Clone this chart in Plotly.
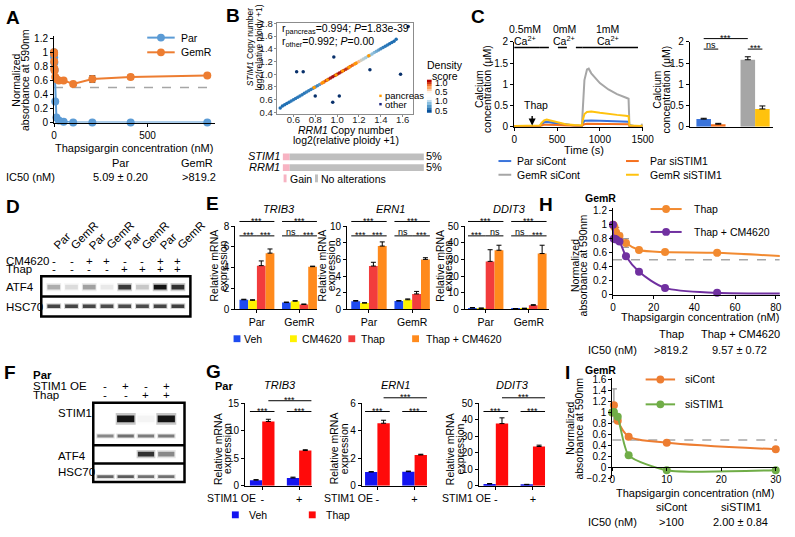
import plotly.graph_objects as go

W, H = 795, 537
FONT = "Liberation Sans, Arial, Helvetica, sans-serif"

# ===================== DATA =====================
# A
conc_A = [0, 0.4, 0.8, 1.6, 3.2, 6.4, 12.8, 25.6, 51.2, 102.4, 204.8, 409.6, 819.2]
par_A = [1.00, 0.97, 0.93, 0.85, 0.75, 0.30, 0.07, 0.03, 0.01, 0.00, 0.00, 0.00, 0.00]
gemr_A = [1.00, 0.98, 0.87, 0.77, 0.74, 0.65, 0.62, 0.60, 0.60, 0.55, 0.62, 0.65, 0.67]
gemr_A_err = [0.02, 0.02, 0.02, 0.02, 0.02, 0.02, 0.02, 0.02, 0.02, 0.02, 0.05, 0.03, 0.02]
lines_A = ["Par", "GemR"]
ic50_A = ["5.09 ± 0.20", ">819.2"]

# B
rrm1_other = [0.48, 0.50, 0.52, 0.54, 0.56, 0.58, 0.60, 0.62, 0.64, 0.66, 0.68, 0.70, 0.72, 0.74,
              0.76, 0.78, 0.80, 0.82, 0.84, 0.86, 0.88, 0.90, 0.92, 0.94, 0.96, 0.98, 1.00, 1.02,
              1.04, 1.06, 1.08, 1.10, 1.12, 1.14, 1.16, 1.18, 1.20, 1.22, 1.24, 1.26, 1.28, 1.30,
              1.32, 1.34, 1.36, 1.38, 1.40, 1.42, 1.44, 1.46, 1.48, 1.50, 1.52, 1.54,
              0.63, 0.69, 0.80, 0.96, 1.02, 0.97, 1.30, 1.58, 1.65]
stim1_other = [0.47, 0.50, 0.52, 0.54, 0.56, 0.58, 0.60, 0.62, 0.64, 0.66, 0.68, 0.70, 0.72, 0.74,
               0.76, 0.78, 0.80, 0.82, 0.84, 0.86, 0.88, 0.90, 0.92, 0.94, 0.96, 0.98, 1.00, 1.02,
               1.04, 1.06, 1.08, 1.10, 1.12, 1.14, 1.16, 1.18, 1.20, 1.22, 1.24, 1.26, 1.28, 1.30,
               1.32, 1.34, 1.36, 1.38, 1.40, 1.42, 1.44, 1.46, 1.48, 1.50, 1.52, 1.55,
               1.04, 1.04, 0.66, 0.56, 0.66, 1.27, 1.07, 1.00, 1.75]
density_other = [0.64, 0.64, 0.65, 0.65, 0.65, 0.66, 0.66, 0.66, 0.66, 0.66, 0.66, 0.66, 0.67, 0.67,
                 0.67, 0.67, 0.67, 0.68, 0.70, 0.88, 0.92, 0.95, 0.97, 0.98, 1.00, 1.00, 1.00, 0.99,
                 0.98, 0.97, 0.96, 0.94, 0.92, 0.90, 0.88, 0.86, 0.84, 0.80, 0.79, 0.78, 0.78, 0.77,
                 0.76, 0.75, 0.73, 0.71, 0.68, 0.67, 0.66, 0.66, 0.65, 0.65, 0.64, 0.64,
                 0.50, 0.50, 0.50, 0.50, 0.50, 0.50, 0.50, 0.50, 0.50]
rrm1_pancreas = [0.79, 0.87, 0.91, 0.99, 1.05, 1.11, 1.17, 1.29]
stim1_pancreas = [0.79, 0.87, 0.91, 0.99, 1.05, 1.11, 1.17, 1.29]
density_ticks = [0.5, 0.6, 0.7, 0.8, 0.9, 1.0]
onco_genes = ["STIM1", "RRM1"]
onco_gain = [5, 5]
onco_none = [95, 95]

# C
time_C = [0, 100, 200, 300, 320, 350, 380, 420, 500, 600, 700, 790, 800, 820, 850, 870, 900,
          1000, 1100, 1200, 1300, 1335, 1345, 1400, 1480, 1500]
par_sicont = [0.02, 0.02, 0.02, 0.02, 0.06, 0.10, 0.11, 0.10, 0.07, 0.04, 0.03, 0.02, 0.08, 0.14,
              0.15, 0.15, 0.15, 0.14, 0.13, 0.12, 0.12, 0.12, 0.02, 0.02, 0.02, 0.02]
par_sistim1 = [0.01, 0.01, 0.01, 0.01, 0.03, 0.05, 0.05, 0.05, 0.04, 0.03, 0.02, 0.02, 0.04, 0.06,
               0.07, 0.07, 0.07, 0.07, 0.06, 0.06, 0.06, 0.06, 0.01, 0.01, 0.01, 0.01]
gemr_sicont = [0.02, 0.02, 0.02, 0.02, 0.07, 0.12, 0.13, 0.12, 0.08, 0.05, 0.03, 0.02, 0.45, 1.10,
               1.35, 1.37, 1.26, 1.03, 0.88, 0.77, 0.69, 0.66, 0.05, 0.02, 0.02, 0.07]
gemr_sistim1 = [0.02, 0.02, 0.02, 0.03, 0.09, 0.15, 0.17, 0.15, 0.11, 0.06, 0.04, 0.03, 0.15, 0.30,
                0.35, 0.36, 0.36, 0.33, 0.30, 0.28, 0.26, 0.25, 0.03, 0.02, 0.02, 0.03]
series_C = ["Par siCont", "Par siSTIM1", "GemR siCont", "GemR siSTIM1"]
ca_phase_start = [0, 300, 800, 1340]
ca_phase_end = [300, 800, 1340, 1500]
ca_labels = ["0.5mM", "0mM", "1mM"]
groups_Cbar = ["Par", "GemR"]
ca_sicont = [0.18, 1.58]
ca_sicont_err = [0.02, 0.07]
ca_sistim1 = [0.06, 0.42]
ca_sistim1_err = [0.02, 0.07]

# D
cells_D = ["Par", "GemR", "Par", "GemR", "Par", "GemR", "Par", "GemR"]
cm4620_D = ["-", "-", "+", "+", "-", "-", "+", "+"]
thap_D = ["-", "-", "-", "-", "+", "+", "+", "+"]
atf4_D = [0.30, 0.12, 0.35, 0.08, 0.80, 0.20, 1.00, 0.85]
hsc70_D = [0.75, 0.75, 0.75, 0.72, 0.72, 0.72, 0.75, 0.78]

# E
groups_E = ["Par", "GemR"]
treat_E = ["Veh", "CM4620", "Thap", "Thap + CM4620"]
genes = ["TRIB3", "ERN1", "DDIT3"]
trib3_E = [[0.92, 0.65], [0.87, 0.78], [4.2, 0.47], [5.4, 4.1]]
trib3_E_err = [[0.05, 0.05], [0.05, 0.06], [0.45, 0.04], [0.40, 0.05]]
ern1_E = [[0.98, 1.0], [0.75, 1.15], [5.2, 1.85], [7.6, 6.0]]
ern1_E_err = [[0.08, 0.05], [0.05, 0.10], [0.45, 0.30], [0.50, 0.20]]
ddit3_E = [[0.8, 0.4], [0.6, 0.5], [28.8, 2.4], [35.5, 33.5]]
ddit3_E_err = [[0.3, 0.1], [0.2, 0.2], [7.0, 0.4], [3.0, 5.0]]
sig_E = {"TRIB3": [["***", "***", "***"], ["***", "ns", "***"]],
         "ERN1": [["***", "***", "***"], ["***", "ns", "***"]],
         "DDIT3": [["***", "***", "ns"], ["***", "ns", "***"]]}

# F
stim1oe_F = ["-", "+", "-", "+"]
thap_F = ["-", "-", "+", "+"]
stim1_F_upper = [0.0, 1.0, 0.04, 1.0]
stim1_F_lower = [0.45, 0.55, 0.50, 0.50]
atf4_F = [0.0, 0.0, 0.85, 0.45]
hsc70_F = [0.60, 0.65, 0.55, 0.55]

# G
groups_G = ["-", "+"]
treat_G = ["Veh", "Thap"]
trib3_G = [[1.0, 1.4], [11.7, 6.4]]
trib3_G_err = [[0.1, 0.15], [0.4, 0.15]]
ern1_G = [[1.0, 1.02], [4.55, 2.24]]
ern1_G_err = [[0.02, 0.04], [0.22, 0.05]]
ddit3_G = [[1.0, 0.6], [37.7, 23.8]]
ddit3_G_err = [[0.3, 0.2], [3.5, 0.8]]

# H
conc_H = [0, 0.4, 0.8, 1.6, 3.2, 6.4, 12.8, 25.6, 51.2, 102.4, 204.8, 409.6, 819.2]
thap_H = [1.00, 0.99, 0.96, 0.89, 0.84, 0.74, 0.64, 0.61, 0.60, 0.53, 0.52, 0.52, 0.52]
thap_H_err = [0.02, 0.02, 0.03, 0.07, 0.04, 0.06, 0.02, 0.02, 0.02, 0.02, 0.02, 0.02, 0.02]
thapcm_H = [1.00, 0.80, 0.80, 0.79, 0.76, 0.55, 0.33, 0.10, 0.03, 0.02, 0.02, 0.02, 0.02]
thapcm_H_err = [0.02, 0.03, 0.02, 0.02, 0.02, 0.02, 0.02, 0.01, 0.01, 0.01, 0.01, 0.01, 0.01]
names_H = ["Thap", "Thap + CM4620"]
ic50_H = [">819.2", "9.57 ± 0.72"]

# I
conc_I = [0, 0.3, 1, 3, 10, 30]
sicont_I = [1.00, 1.13, 0.85, 0.56, 0.45, 0.33]
sicont_I_err = [0.02, 0.30, 0.04, 0.03, 0.02, 0.02]
sistim1_I = [1.00, 1.01, 0.92, 0.22, -0.05, -0.05]
names_I = ["siCont", "siSTIM1"]
ic50_I = [">100", "2.00 ± 0.84"]

# ===================== HELPERS =====================
fig = go.Figure()
_n = [0]


def new_axes(x0, y0, x1, y1, xkw=None, ykw=None):
    _n[0] += 1
    k = _n[0]
    s = '' if k == 1 else str(k)
    base = dict(showgrid=False, zeroline=False, showline=True, linecolor='black', linewidth=1,
                ticks='outside', ticklen=3, tickwidth=1, tickcolor='black',
                tickfont=dict(size=10, family=FONT, color='black'), fixedrange=True)
    xa = dict(base, domain=[x0 / W, x1 / W], anchor='y' + s)
    ya = dict(base, domain=[1 - y1 / H, 1 - y0 / H], anchor='x' + s)
    if xkw:
        xa.update(xkw)
    if ykw:
        ya.update(ykw)
    fig.update_layout({'xaxis' + s: xa, 'yaxis' + s: ya})
    return 'x' + s, 'y' + s


def T(x, y, text, size=10.5, xa='center', ya='middle', angle=0, color='black', xref='paper'):
    fig.add_annotation(x=x / W if xref == 'paper' else x, y=1 - y / H, xref=xref, yref='paper',
                       text=text, showarrow=False, xanchor=xa, yanchor=ya, textangle=angle,
                       font=dict(size=size, family=FONT, color=color), borderpad=0)


def line(x0, y0, x1, y1, color='black', width=1, dash=None, xref='paper'):
    if xref == 'paper':
        x0, x1 = x0 / W, x1 / W
    fig.add_shape(type='line', xref=xref, yref='paper', x0=x0, x1=x1, y0=1 - y0 / H, y1=1 - y1 / H,
                  line=dict(color=color, width=width, dash=dash))


def rect(x0, y0, x1, y1, xref='paper', **kw):
    if xref == 'paper':
        x0, x1 = x0 / W, x1 / W
    fig.add_shape(type='rect', xref=xref, yref='paper', x0=x0, x1=x1, y0=1 - y1 / H, y1=1 - y0 / H, **kw)


def vlines(xs, yc, texts, size=10.5):
    for x, t in zip(xs, texts):
        T(x, yc, t, size=size, angle=-90)


def leg_lm(x0, x1, y, color, label, tx, size=10.5):
    line(x0, y, x1, y, color=color, width=2)
    cx = (x0 + x1) / 2
    fig.add_shape(type='circle', xref='paper', yref='paper', x0=(cx - 4) / W, x1=(cx + 4) / W,
                  y0=1 - (y + 4) / H, y1=1 - (y - 4) / H, fillcolor=color, line=dict(width=0))
    T(tx, y, label, size=size, xa='left')


def leg_sq(x0, y, color, label, tx, size=10.5):
    rect(x0, y - 3.5, x0 + 7, y + 3.5, fillcolor=color, line=dict(width=0))
    T(tx, y, label, size=size, xa='left')


def bracket(xref, xa_, xb_, ypix, label, size=9):
    line(xa_, ypix, xb_, ypix, xref=xref, width=1)
    off = 5.4 if '*' in label else 1.8
    T((xa_ + xb_) / 2, ypix + off, label, size=size, ya='bottom', xref=xref)


def bands(xref, vals, yc, h, w):
    for i, v in enumerate(vals):
        if v <= 0:
            continue
        lane = i + 1
        rect(lane - w * 0.58, yc - h * 0.85, lane + w * 0.58, yc + h * 0.85, xref=xref,
             fillcolor='black', opacity=v * 0.22, line=dict(width=0))
        rect(lane - w / 2, yc - h / 2, lane + w / 2, yc + h / 2, xref=xref,
             fillcolor='black', opacity=min(1, v * 0.9), line=dict(width=0))


def grouped_bars(xr, yr, vals, errs, colors, names, gw):
    n = len(vals)
    for i in range(n):
        fig.add_trace(go.Bar(x=[0, 1], y=vals[i], width=gw / n, offset=-gw / 2 + i * gw / n,
                             marker=dict(color=colors[i], line=dict(width=0)), name=names[i],
                             error_y=dict(type='data', array=errs[i], arrayminus=[0, 0], symmetric=False,
                                          color='black', thickness=1, width=2.5),
                             xaxis=xr, yaxis=yr, showlegend=False))


# ===================== PANEL A =====================
BLUE_A, ORANGE_A = '#5B9BD5', '#ED7D31'
xA, yA = new_axes(52, 32, 216, 120, dict(range=[0, 860], tickvals=[0, 500]),
                  dict(range=[0, 1.228], tickvals=[0, 0.2, 0.4, 0.6, 0.8, 1, 1.2]))
fig.add_shape(type='line', xref=xA, yref=yA, x0=0, x1=819.2, y0=0.5, y1=0.5, layer='below',
              line=dict(color='#A6A6A6', width=1.5, dash='dash'))
fig.add_trace(go.Scatter(x=conc_A, y=par_A, mode='lines+markers', line=dict(color=BLUE_A, width=2),
                         marker=dict(size=8, color=BLUE_A), xaxis=xA, yaxis=yA, cliponaxis=False,
                         showlegend=False))
fig.add_trace(go.Scatter(x=conc_A, y=gemr_A, mode='lines+markers', line=dict(color=ORANGE_A, width=2),
                         marker=dict(size=8, color=ORANGE_A), xaxis=xA, yaxis=yA, cliponaxis=False,
                         error_y=dict(type='data', array=gemr_A_err, color='#555', thickness=1, width=3),
                         showlegend=False))
leg_lm(147, 175, 33.3, BLUE_A, lines_A[0], 180)
leg_lm(147, 175, 48.3, ORANGE_A, lines_A[1], 180)
vlines([13.5, 23], 77, ["Normalized", "absorbance at 590nm"], size=10.5)
T(134, 145.5, "Thapsigargin concentration (nM)", size=11)
T(120, 161.5, lines_A[0], size=11)
T(198, 161.5, lines_A[1], size=11)
T(2, 176, "IC50 (nM)", size=11, xa='left')
T(120, 176, ic50_A[0], size=11)
T(200, 176, ic50_A[1], size=11)

# ===================== PANEL B =====================
b_tick = dict(size=9.5, family=FONT, color='#222')
xB, yB = new_axes(279, 18.3, 418, 111,
                  dict(range=[0.448, 1.695], tick0=0.6, dtick=0.2, tickformat='.1f', mirror=True,
                       linecolor='#8c8c8c', tickcolor='#8c8c8c', ticklen=2, tickfont=b_tick,
                       ticklabelstandoff=-5),
                  dict(range=[0.38, 1.806], tick0=0.6, dtick=0.2, tickformat='.1f', mirror=True,
                       linecolor='#8c8c8c', tickcolor='#8c8c8c', ticklen=2, tickfont=b_tick,
                       ticklabelstandoff=-1))
DENS_SCALE = [[0, '#08306b'], [0.3, '#2171b5'], [0.55, '#9ecae1'], [0.65, '#fdd0a2'],
              [0.8, '#f16913'], [1.0, '#a50f15']]
fig.add_trace(go.Scatter(x=rrm1_other, y=stim1_other, mode='markers',
                         marker=dict(size=3.5, color=density_other, colorscale=DENS_SCALE, cmin=0.5, cmax=1.0),
                         xaxis=xB, yaxis=yB, showlegend=False))
fig.add_trace(go.Scatter(x=rrm1_pancreas, y=stim1_pancreas, mode='markers',
                         marker=dict(size=3.5, color='#FF9900'), xaxis=xB, yaxis=yB, showlegend=False))
T(283, 25, "r<sub>pancreas</sub>=0.994; <i>P</i>=1.83e-39", size=10.5, xa='left')
T(283, 37.5, "r<sub>other</sub>=0.992; <i>P</i>=0.00", size=10.5, xa='left')
rect(383.5, 91.5, 386, 94, fillcolor='#FF9900', line=dict(width=0))
rect(383.5, 100, 386, 102.5, fillcolor='#1a237e', line=dict(width=0))
T(388, 92, "pancreas", size=9.5, xa='left')
T(388, 101.5, "other", size=9.5, xa='left')
vlines([252, 261], 43, ["<i>STIM1</i> Copy number", "log2(relative ploidy +1)"], size=8.5)
T(350, 128, "<i>RRM1</i> Copy number", size=10.5)
T(350, 137.5, "log2(relative ploidy +1)", size=10.5)
# density colour keys
xK1, yK1 = new_axes(432, 76, 437, 90, dict(visible=False), dict(visible=False, range=[0.45, 1.05]))
fig.add_trace(go.Heatmap(z=[[v] for v in density_ticks], y=density_ticks, x=[0], zmin=0.5, zmax=1.0,
                         colorscale=[[0, '#fff5eb'], [0.5, '#fd8d3c'], [1, '#b30000']], showscale=False,
                         xaxis=xK1, yaxis=yK1))
xK2, yK2 = new_axes(432, 94, 437, 110, dict(visible=False), dict(visible=False, range=[0.45, 1.05]))
fig.add_trace(go.Heatmap(z=[[v] for v in density_ticks], y=density_ticks, x=[0], zmin=0.5, zmax=1.0,
                         colorscale=[[0, '#08519c'], [0.5, '#6baed6'], [1, '#f7fbff']], showscale=False,
                         xaxis=xK2, yaxis=yK2))
T(450, 61, "Density", size=10.5)
T(450, 72, "score", size=10.5)
T(439.5, 79.5, "1.0", size=9, xa='left')
T(439.5, 89, "0.5", size=9, xa='left')
T(439.5, 98.5, "1.0", size=9, xa='left')
T(439.5, 108.5, "0.5", size=9, xa='left')
# oncoprint
xO, yO = new_axes(285, 149.5, 429, 171.5, dict(visible=False, range=[0, 100]),
                  dict(visible=False, range=[-0.5, 1.5], categoryorder='array',
                       categoryarray=onco_genes[::-1]))
fig.add_trace(go.Bar(y=onco_genes, x=onco_gain, orientation='h', width=0.64,
                     marker=dict(color='#F7B3C2', line=dict(width=0)), xaxis=xO, yaxis=yO, showlegend=False))
fig.add_trace(go.Bar(y=onco_genes, x=onco_none, base=onco_gain, orientation='h', width=0.64,
                     marker=dict(color='#BFBFBF', line=dict(width=0)), xaxis=xO, yaxis=yO, showlegend=False))
T(283, 154.5, "<i>STIM1</i>", size=11, xa='right')
T(283, 165.5, "<i>RRM1</i>", size=11, xa='right')
T(430, 154.5, "5%", size=11, xa='left')
T(430, 165.5, "5%", size=11, xa='left')
rect(286, 173, 289, 181, fillcolor='#F7B3C2', line=dict(width=0))
T(292, 178, "Gain", size=10.5, xa='left')
rect(318, 173, 321, 181, fillcolor='#BFBFBF', line=dict(width=0))
T(323, 178, "No alterations", size=10.5, xa='left')

# ===================== PANEL C =====================
C_colors = {"Par siCont": '#3A74DB', "Par siSTIM1": '#F5701E', "GemR siCont": '#A6A6A6',
            "GemR siSTIM1": '#FFC20E'}
C_values = {"Par siCont": par_sicont, "Par siSTIM1": par_sistim1, "GemR siCont": gemr_sicont,
            "GemR siSTIM1": gemr_sistim1}
xC, yC = new_axes(521, 37.7, 652, 124.3, dict(range=[0, 1500], tickvals=[0, 500, 1000, 1500]),
                  dict(range=[0, 2], tickvals=[0, 0.5, 1, 1.5, 2]))
for nm in ["GemR siCont", "Par siCont", "Par siSTIM1", "GemR siSTIM1"]:
    fig.add_trace(go.Scatter(x=time_C, y=C_values[nm], mode='lines', line=dict(color=C_colors[nm], width=2),
                             xaxis=xC, yaxis=yC, showlegend=False))
for i, (a, b) in enumerate(zip(ca_phase_start, ca_phase_end)):
    fig.add_shape(type='line', xref=xC, yref=yC, x0=a, x1=b, y0=1.87, y1=1.87,
                  line=dict(color='black', width=1.5, dash='solid' if i % 2 == 0 else 'dash'))
for lbl, t in zip(ca_labels, [125, 585, 1090]):
    T(t, 25, lbl, size=10.5, xref=xC)
    T(t, 36, "Ca<sup>2+</sup>", size=10.5, xref=xC)
fig.add_annotation(x=210, y=0.03, xref=xC, yref=yC, ax=0, ay=-11, showarrow=True, arrowhead=2,
                   arrowsize=1, arrowwidth=1.4, arrowcolor='black', text='')
T(543, 102, "Thap", size=10.5)
vlines([485, 494], 86, ["Calcium", "concentration (μM)"], size=10.5)
T(592, 148, "Time (s)", size=11)
# bar
xCb, yCb = new_axes(700, 37.7, 785, 124.3,
                    dict(range=[-0.48, 1.41], ticks='', showticklabels=False),
                    dict(range=[0, 2], tickvals=[0, 0.5, 1, 1.5, 2]))
gwC = 0.66
fig.add_trace(go.Bar(x=[0, 1], y=ca_sicont, width=gwC / 2, offset=-gwC / 2,
                     marker=dict(color=[C_colors["Par siCont"], C_colors["GemR siCont"]], line=dict(width=0)),
                     error_y=dict(type='data', array=ca_sicont_err, arrayminus=[0, 0], symmetric=False,
                                  color='black', thickness=1, width=3),
                     xaxis=xCb, yaxis=yCb, showlegend=False))
fig.add_trace(go.Bar(x=[0, 1], y=ca_sistim1, width=gwC / 2, offset=0,
                     marker=dict(color=[C_colors["Par siSTIM1"], C_colors["GemR siSTIM1"]], line=dict(width=0)),
                     error_y=dict(type='data', array=ca_sistim1_err, arrayminus=[0, 0], symmetric=False,
                                  color='black', thickness=1, width=3),
                     xaxis=xCb, yaxis=yCb, showlegend=False))
bracket(xCb, -gwC / 4, 1 - gwC / 4, 34.3, "***")
bracket(xCb, -gwC / 4, gwC / 4, 45, "ns")
bracket(xCb, 1 - gwC / 4, 1 + gwC / 4, 45, "***")
vlines([667, 676], 86, ["Calcium", "concentration (μM)"], size=10.5)
leg_x = [(505, 518, 522.5, 159.3), (635, 648, 658, 159.3), (505, 518, 522.5, 173.3), (635, 648, 658, 173.3)]
for nm, (a, b, tx, yy) in zip(series_C, leg_x):
    line(a, yy, b, yy, color=C_colors[nm], width=2)
    T(tx, yy, nm, size=10.5, xa='left')

# ===================== PANEL D =====================
xD, yD = new_axes(40, 278, 190, 317, dict(range=[0.35, 8.65], visible=False),
                  dict(range=[0, 1], visible=False))
bands(xD, atf4_D, 288, 5, 0.72)
bands(xD, hsc70_D, 307.5, 3.5, 0.72)
rect(39, 277, 191, 318, line=dict(color='black', width=2.5))
line(39, 297.5, 191, 297.5, width=2.5)
for i, c in enumerate(cells_D):
    T(i + 1 - 0.22, 253, c, size=11.5, xa='left', ya='bottom', angle=-45, xref=xD)
    T(i + 1, 261, cm4620_D[i], size=11.5, xref=xD)
    T(i + 1, 270, thap_D[i], size=11.5, xref=xD)
T(2, 261, "CM4620", size=11.5, xa='left')
T(2, 270, "Thap", size=11.5, xa='left')
T(2, 288, "ATF4", size=11.5, xa='left')
T(2, 308, "HSC70", size=11.5, xa='left')

# ===================== PANEL E =====================
E_colors = ['#1E4BF0', '#FFF200', '#F23C3C', '#FF8A1C']
E_data = {"TRIB3": (trib3_E, trib3_E_err), "ERN1": (ern1_E, ern1_E_err), "DDIT3": (ddit3_E, ddit3_E_err)}
E_boxes = {"TRIB3": (236.7, 320, -0.509, 1.41, 8, 2, 281, [215, 224]),
           "ERN1": (350.7, 435.5, -0.507, 1.42, 10, 2, 395, [325, 334]),
           "DDIT3": (470.7, 556, -0.484, 1.455, 50, 10, 516, [444.5, 453.5])}
gwE = 0.82
for g in genes:
    x0, x1, r0, r1, ymax, dt, tcx, ytx = E_boxes[g]
    xr, yr = new_axes(x0, 225.7, x1, 310.7,
                      dict(range=[r0, r1], tickvals=[0, 1], ticktext=groups_E, tickfont=dict(size=10.5)),
                      dict(range=[0, ymax], dtick=dt))
    vals, errs = E_data[g]
    grouped_bars(xr, yr, vals, errs, E_colors, treat_E, gwE)
    for gi in range(2):
        top, left, right = sig_E[g][gi]
        bracket(xr, gi - gwE / 2, gi + gwE / 2, 221, top)
        bracket(xr, gi - gwE / 2, gi, 235.7, left)
        bracket(xr, gi, gi + gwE / 2, 235.7, right)
    T(tcx, 208, "<i>%s</i>" % g, size=11)
    vlines(ytx, 266, ["Relative mRNA", "expression"], size=10.5)
for nm, col, sx, tx in zip(treat_E, E_colors, [235, 292.5, 352, 417], [245, 304, 364, 430]):
    leg_sq(sx, 340.7, col, nm, tx)

# ===================== PANEL F =====================
xF, yF = new_axes(93, 407, 184, 487, dict(range=[0.45, 4.85], visible=False),
                  dict(range=[0, 1], visible=False))
bands(xF, stim1_F_upper, 422.5, 7, 0.85)
bands(xF, stim1_F_lower, 440, 3, 0.8)
bands(xF, atf4_F, 458.5, 5, 0.8)
bands(xF, hsc70_F, 481.5, 3, 0.8)
rect(92, 406, 185, 487, line=dict(color='black', width=2.5))
line(92, 449.5, 185, 449.5, width=2.5)
line(92, 468, 185, 468, width=2.5)
for i in range(4):
    T(i + 1, 389, stim1oe_F[i], size=11.5, xref=xF)
    T(i + 1, 398, thap_F[i], size=11.5, xref=xF)
T(30, 378, "<b>Par</b>", size=11.5, xa='left')
T(30, 389, "STIM1 OE", size=11.5, xa='left')
T(30, 398, "Thap", size=11.5, xa='left')
T(55, 416.7, "STIM1", size=11.5, xa='left')
T(55, 460, "ATF4", size=11.5, xa='left')
T(55, 477, "HSC70", size=11.5, xa='left')

# ===================== PANEL G =====================
G_colors = ['#1414F0', '#FF0A0A']
G_data = {"TRIB3": (trib3_G, trib3_G_err), "ERN1": (ern1_G, ern1_G_err), "DDIT3": (ddit3_G, ddit3_G_err)}
G_boxes = {"TRIB3": (246.7, 315, -0.465, 1.35, 15, 5, 282, [218.5, 228.5], 259, 404),
           "ERN1": (365.7, 432.5, -0.42, 1.343, 6, 2, 400, [337, 347], 378.5, 401),
           "DDIT3": (485, 552.5, -0.457, 1.327, 50, 10, 519, [455, 465.5], 498.5, 401)}
gwG = 0.665
for g in genes:
    x0, x1, r0, r1, ymax, dt, tcx, ytx, oex, ytop = G_boxes[g]
    xr, yr = new_axes(x0, 406.7, x1, 490.7,
                      dict(range=[r0, r1], tickvals=[0, 1], ticktext=groups_G, tickfont=dict(size=11)),
                      dict(range=[0, ymax], dtick=dt))
    vals, errs = G_data[g]
    grouped_bars(xr, yr, vals, errs, G_colors, treat_G, gwG)
    bracket(xr, -gwG / 2, gwG / 2, 415, "***")
    bracket(xr, 1 - gwG / 2, 1 + gwG / 2, 415, "***")
    bracket(xr, gwG / 4, 1 + gwG / 2, ytop, "***")
    T(tcx, 388, "<i>%s</i>" % g, size=11)
    vlines(ytx, 453, ["Relative mRNA", "expression"], size=10.5)
    T(oex, 503, "STIM1 OE", size=10.5, xa='right')
T(215, 389, "<b>Par</b>", size=11, xa='left')
for nm, col, sx, tx in zip(treat_G, G_colors, [233.3, 311.7], [250, 328]):
    leg_sq(sx, 520.5, col, nm, tx)

# ===================== PANEL H =====================
OR_H, PU_H = '#F28A30', '#7030A0'
xH, yH = new_axes(621.7, 207.3, 791.7, 296, dict(range=[0, 82], tickvals=[0, 20, 40, 60, 80]),
                  dict(range=[0, 1.238], tickvals=[0, 0.2, 0.4, 0.6, 0.8, 1, 1.2]))
fig.add_shape(type='line', xref=xH, yref=yH, x0=0, x1=82, y0=0.5, y1=0.5, layer='below',
              line=dict(color='#A6A6A6', width=1.5, dash='dash'))
for ys, es, col in [(thap_H, thap_H_err, OR_H), (thapcm_H, thapcm_H_err, PU_H)]:
    fig.add_trace(go.Scatter(x=conc_H, y=ys, mode='lines', line=dict(color=col, width=2, shape='spline', smoothing=0.8),
                             xaxis=xH, yaxis=yH, showlegend=False))
    vis = [i for i, c in enumerate(conc_H) if c <= 82]
    fig.add_trace(go.Scatter(x=[conc_H[i] for i in vis], y=[ys[i] for i in vis], mode='markers',
                             marker=dict(size=8, color=col), cliponaxis=False,
                             error_y=dict(type='data', array=[es[i] for i in vis], color='#777', thickness=1, width=3),
                             xaxis=xH, yaxis=yH, showlegend=False))
T(592, 197, "<b>GemR</b>", size=10.5, xa='left')
leg_lm(660, 691.7, 208.3, OR_H, names_H[0], 703)
leg_lm(660, 691.7, 231.7, PU_H, names_H[1], 703)
vlines([582.5, 591], 266, ["Normalized", "absorbance at 590nm"], size=10.5)
T(710, 319, "Thapsigargin concentration (nM)", size=11)
T(681.7, 335.5, names_H[0], size=11)
T(751.7, 335.5, names_H[1], size=11)
T(621, 352.7, "IC50 (nM)", size=11)
T(681, 352.7, ic50_H[0], size=11)
T(751, 352.7, ic50_H[1], size=11)

# ===================== PANEL I =====================
OR_I, GR_I = '#ED7D31', '#70AD47'
I_y0, I_y1, I_r = 381.2, 483.3, [-0.2, 1.62]
I_zero_pix = I_y1 - (0 - I_r[0]) / (I_r[1] - I_r[0]) * (I_y1 - I_y0)
xI, yI = new_axes(621, I_y0, 789, I_y1,
                  dict(range=[0, 30.25], tickvals=[0, 10, 20, 30], anchor='free', position=1 - I_zero_pix / H),
                  dict(range=I_r, tickvals=[-0.2, 0, 0.2, 0.4, 0.6, 0.8, 1, 1.2, 1.4, 1.6]))
fig.add_shape(type='line', xref=xI, yref=yI, x0=0, x1=30.25, y0=0.5, y1=0.5, layer='below',
              line=dict(color='#A6A6A6', width=1.5, dash='dash'))
fig.add_trace(go.Scatter(x=conc_I, y=sicont_I, mode='lines+markers',
                         line=dict(color=OR_I, width=2, shape='spline', smoothing=0.8),
                         marker=dict(size=8, color=OR_I), cliponaxis=False,
                         error_y=dict(type='data', array=sicont_I_err, color='#8c8c8c', thickness=1.2, width=3),
                         xaxis=xI, yaxis=yI, showlegend=False))
fig.add_trace(go.Scatter(x=conc_I, y=sistim1_I, mode='lines+markers',
                         line=dict(color=GR_I, width=2, shape='spline', smoothing=0.6),
                         marker=dict(size=8, color=GR_I), cliponaxis=False,
                         xaxis=xI, yaxis=yI, showlegend=False))
T(592, 372.5, "<b>GemR</b>", size=10.5, xa='left')
leg_lm(655, 685, 382.3, OR_I, names_I[0], 694)
leg_lm(655, 685, 407.7, GR_I, names_I[1], 694)
vlines([578.5, 587.5], 432, ["Normalized", "absorbance at 590nm"], size=10.5)
T(705, 498.3, "Thapsigargin concentration (nM)", size=11)
T(681.7, 512, names_I[0], size=11)
T(751.7, 512, names_I[1], size=11)
T(621.7, 528.3, "IC50 (nM)", size=11)
T(681.7, 528.3, ic50_I[0], size=11)
T(751.7, 528.3, ic50_I[1], size=11)

# ===================== PANEL LETTERS =====================
for letter, lx, ly in [("A", 10.5, 12.5), ("B", 234.5, 10.5), ("C", 484.5, 12), ("D", 10, 206),
                       ("E", 213.5, 203), ("F", 7.5, 375), ("G", 215, 374), ("H", 553, 204),
                       ("I", 575, 375)]:
    T(lx, ly, "<b>%s</b>" % letter, size=19)

fig.update_layout(width=W, height=H, margin=dict(l=0, r=0, t=0, b=0), plot_bgcolor='white',
                  paper_bgcolor='white', showlegend=False, barmode='overlay',
                  font=dict(family=FONT, size=10.5, color='black'))
fig.write_html("out.html", config={'displayModeBar': False},
               post_script="document.body.style.margin='0px';document.body.style.padding='0px';")
